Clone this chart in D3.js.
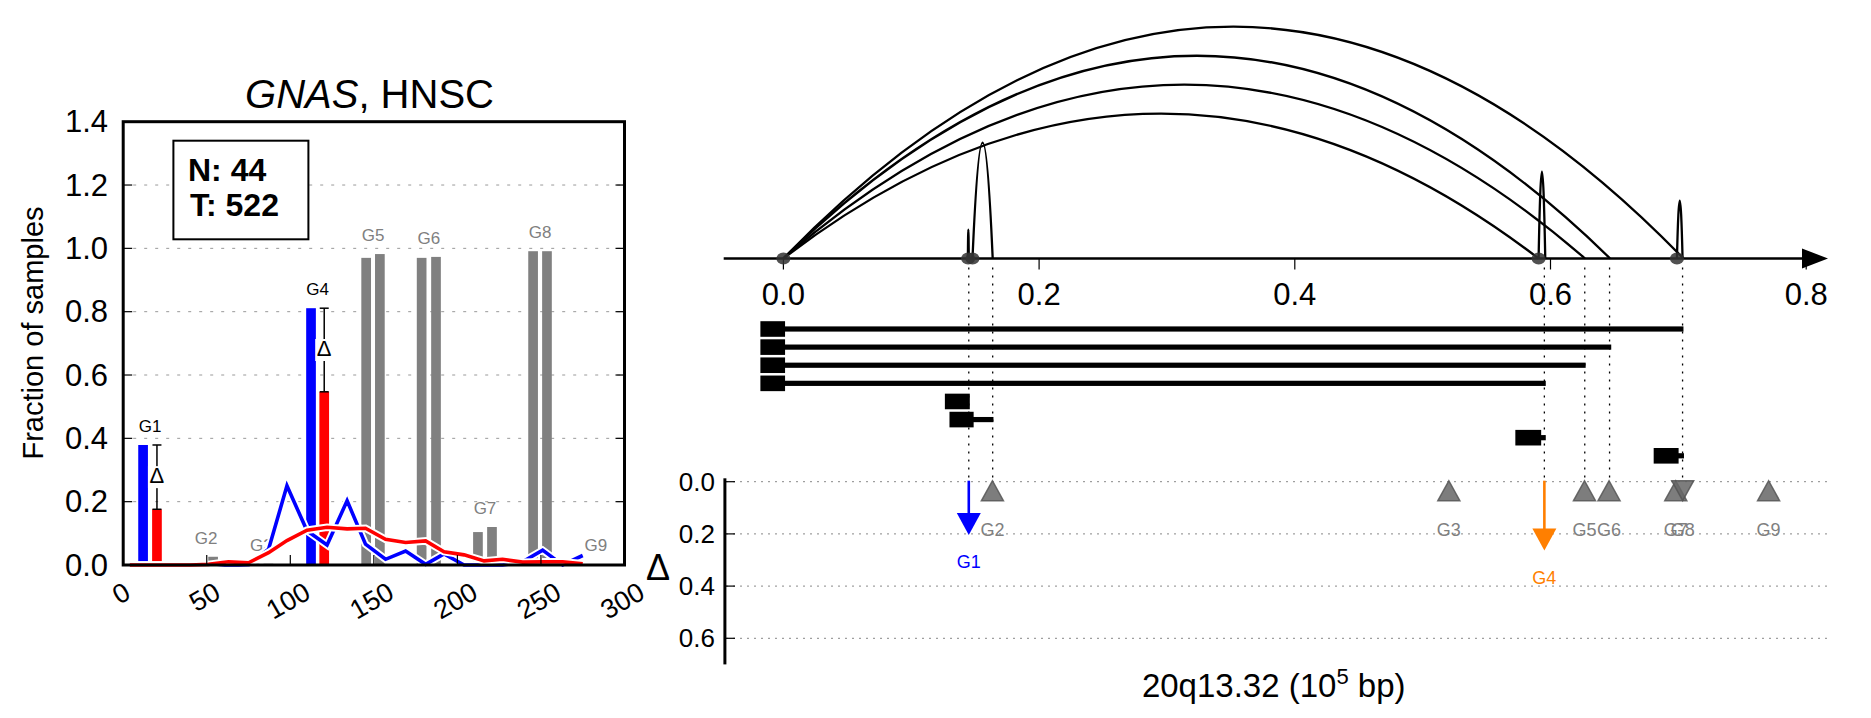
<!DOCTYPE html>
<html><head><meta charset="utf-8">
<script src="https://cdn.jsdelivr.net/npm/d3@7"></script>
<style>body{margin:0;background:#fff}</style>
</head><body><svg id="c" width="1871" height="718"></svg>
<script>
// ---------------- data : left panel ----------------
const groups      = ["G1","G2","G3","G4","G5","G6","G7","G8","G9"];
const barPosA     = [11.9, 45.5, 78.5, 112.4, 145.4, 178.6, 212.3, 245.3, 278.6];
const barPosB     = [20.2, 53.8, 86.9, 120.3, 153.6, 187.2, 220.7, 253.6, 287.0];
const fracA       = [0.379, 0.005, 0.004, 0.811, 0.970, 0.970, 0.104, 0.991, 0.003];
const fracB       = [0.176, 0.026, 0.004, 0.547, 0.982, 0.973, 0.120, 0.991, 0.003];
const highlighted = ["G1","G4"];
const binX        = [4,16,28,40,51,63,75,87,98,110,122,134,145,157,169,181,192,204,216,227,239,251,263,275];
const blueLine    = [0,0,0,0,0,0,0,0.05,0.25,0.108,0.063,0.203,0.066,0.018,0.044,0.002,0.035,0,0,0,0.01,0.047,0,0.03];
const redLine     = [0,0,0,0,0.002,0.01,0.007,0.039,0.077,0.11,0.119,0.114,0.116,0.081,0.071,0.076,0.042,0.032,0.013,0.018,0.009,0.01,0.01,0.004];
const yTicksL     = [0,0.2,0.4,0.6,0.8,1.0,1.2,1.4];
const xTicksL     = [0,50,100,150,200,250,300];
const countN = 44, countT = 522;

// ---------------- data : right panel ----------------
const axisTicksR   = [0,0.2,0.4,0.6,0.8];
const arcStart     = [0,0,0,0,0.1479,0.5907,0.6989,0.1443];
const arcEnd       = [0.704,0.6466,0.627,0.5907,0.1637,0.5959,0.7033,0.1450];
const arcLevel     = [8,7,6,5,4,3,2,1];
const breakpoints  = [0,0.1445,0.1479,0.5907,0.6989];
const guideX       = [0.1450,0.1637,0.5952,0.6268,0.6462,0.7033];
const segThickFrom = [-0.018,-0.018,-0.018,-0.018,0.1263,0.1299,0.5725,0.6807];
const segThickTo   = [0.0013,0.0013,0.0013,0.0013,0.1458,0.1488,0.5927,0.7002];
const segLineTo    = [0.704,0.6475,0.6275,0.5963,0.1458,0.1643,0.5963,0.7044];
const deltaTicks   = [0,0.2,0.4,0.6];
const triGroups    = ["G2","G3","G5","G6","G7","G8","G9"];
const triPos       = [0.1635,0.5205,0.6266,0.6458,0.698,0.7034,0.7706];
const triUp        = [true,true,true,true,true,false,true];
const arrowGroups  = ["G1","G4"];
const arrowPos     = [0.145,0.5952];
const arrowDelta   = [0.204,0.264];

// ---------------- drawing ----------------
const FONT = '"Liberation Sans", Arial, Helvetica, sans-serif';
const svg = d3.select("#c").style("font-family", FONT);
const BLUE = "#0000ff", RED = "#ff0000", GRAY = "#808080", ORANGE = "#ff7f00";

function txt(g, x, y, s, size, opt = {}) {
  const t = g.append("text").attr("x", x).attr("y", y).attr("font-size", size)
    .attr("text-anchor", opt.anchor || "start").attr("fill", opt.fill || "#000");
  if (opt.weight) t.attr("font-weight", opt.weight);
  if (opt.baseline) t.attr("dominant-baseline", opt.baseline);
  if (opt.transform) t.attr("transform", opt.transform);
  t.text(s);
  return t;
}

// ===== Left panel =====
const xL = d3.scaleLinear().domain([0,300]).range([123.2,624.5]);
const yL = d3.scaleLinear().domain([0,1.4]).range([565,121.7]);
const L = svg.append("g");

// grid
L.selectAll(".grid").data(yTicksL.filter(t => t > 0 && t < 1.4)).join("line")
  .attr("x1", xL(0) + 10).attr("x2", xL(300) - 2)
  .attr("y1", d => yL(d)).attr("y2", d => yL(d))
  .attr("stroke", "#999").attr("stroke-width", 1).attr("stroke-dasharray", "3,8");

// bars
const bw = xL(5.8) - xL(0);
const barData = [];
groups.forEach((g, i) => {
  const hl = highlighted.includes(g);
  barData.push({g, x: barPosA[i], v: fracA[i], c: hl ? BLUE : GRAY});
  barData.push({g, x: barPosB[i], v: fracB[i], c: hl ? RED : GRAY});
});
L.selectAll(".bar").data(barData).join("rect")
  .attr("x", d => xL(d.x) - bw/2).attr("width", bw)
  .attr("y", d => yL(d.v)).attr("height", d => yL(0) - yL(d.v))
  .attr("fill", d => d.c);

// group labels
L.selectAll(".glab").data(groups).join("text")
  .attr("x", (d,i) => xL((barPosA[i] + barPosB[i]) / 2))
  .attr("y", (d,i) => yL(Math.max(fracA[i], fracB[i])) - 13)
  .attr("text-anchor", "middle").attr("font-size", 17)
  .attr("fill", d => highlighted.includes(d) ? "#000" : GRAY)
  .text(d => d);

// lines with white halo
const line = d3.line().x(d => xL(d[0])).y(d => yL(d[1]));
[[blueLine, BLUE], [redLine, RED]].forEach(([vals, col]) => {
  const pts = binX.map((x, i) => [x, vals[i]]);
  L.append("path").attr("d", line(pts)).attr("fill", "none")
    .attr("stroke", "#fff").attr("stroke-width", 7.5).attr("stroke-linejoin", "miter");
  L.append("path").attr("d", line(pts)).attr("fill", "none")
    .attr("stroke", col).attr("stroke-width", 3.6).attr("stroke-linejoin", "miter");
});

// error bars with delta
groups.forEach((g, i) => {
  if (!highlighted.includes(g)) return;
  const x = xL(barPosB[i]), y1 = yL(fracA[i]), y2 = yL(fracB[i]), ym = (y1 + y2) / 2;
  L.append("line").attr("x1", x).attr("x2", x).attr("y1", y1).attr("y2", y2)
    .attr("stroke", "#000").attr("stroke-width", 1.5);
  [y1, y2].forEach(y => L.append("line").attr("x1", x - 4.5).attr("x2", x + 4.5)
    .attr("y1", y).attr("y2", y).attr("stroke", "#000").attr("stroke-width", 1.5));
  L.append("rect").attr("x", x - 9).attr("y", ym - 11).attr("width", 18).attr("height", 22).attr("fill", "#fff");
  txt(L, x, ym + 6, "Δ", 22, {anchor: "middle"});
});

// frame
L.append("rect").attr("x", xL(0)).attr("y", yL(1.4)).attr("width", xL(300) - xL(0))
  .attr("height", yL(0) - yL(1.4)).attr("fill", "none").attr("stroke", "#000").attr("stroke-width", 3);
// ticks
yTicksL.filter(t => t > 0 && t < 1.4).forEach(t => {
  L.append("line").attr("x1", xL(0)).attr("x2", xL(0) + 9).attr("y1", yL(t)).attr("y2", yL(t)).attr("stroke", "#000").attr("stroke-width", 1.2);
  L.append("line").attr("x1", xL(300) - 9).attr("x2", xL(300)).attr("y1", yL(t)).attr("y2", yL(t)).attr("stroke", "#000").attr("stroke-width", 1.2);
});
xTicksL.filter(t => t > 0 && t < 300).forEach(t => {
  L.append("line").attr("x1", xL(t)).attr("x2", xL(t)).attr("y1", yL(0)).attr("y2", yL(0) - 10).attr("stroke", "#000").attr("stroke-width", 1.2);
});
// y tick labels
yTicksL.forEach(t => txt(L, 108, yL(t), t.toFixed(1), 31, {anchor: "end", baseline: "central"}));
// x tick labels rotated
xTicksL.forEach(t => {
  const fs = 27;
  const tx = L.append("text").attr("font-size", fs).attr("text-anchor", "middle")
    .attr("dominant-baseline", "central").text(t);
  const w = tx.node().getComputedTextLength();
  const h = w * 0.5 + fs * 0.866;
  const cx = xL(t) - 2, cy = yL(0) + 13 + h / 2;
  tx.attr("x", cx).attr("y", cy).attr("transform", `rotate(-30,${cx},${cy})`);
});
// y label
txt(L, 0, 0, "Fraction of samples", 29, {anchor: "middle", transform: `translate(43,333) rotate(-90)`});
// title
const title = L.append("text").attr("x", 369.5).attr("y", 108).attr("font-size", 40).attr("text-anchor", "middle");
title.append("tspan").attr("font-style", "italic").text("GNAS");
title.append("tspan").text(", HNSC");
// inset
L.append("rect").attr("x", 173.4).attr("y", 140.7).attr("width", 135).attr("height", 98.6)
  .attr("fill", "#fff").attr("stroke", "#000").attr("stroke-width", 2);
txt(L, 188, 181, `N: ${countN}`, 32, {weight: "bold"});
txt(L, 190, 216, `T: ${countT}`, 32, {weight: "bold"});

// ===== Right panel =====
const xR = d3.scaleLinear().domain([0,0.8]).range([783.4,1806.2]);
const axisY = 258.5;
const yLev = d3.scaleLinear().domain([0,8]).range([axisY, axisY - 231.8]);
const R = svg.append("g");

// guides (dotted)
R.selectAll(".guide").data(guideX).join("line")
  .attr("x1", d => xR(d)).attr("x2", d => xR(d)).attr("y1", axisY + 9).attr("y2", 481)
  .attr("stroke", "#000").attr("stroke-width", 1.3).attr("stroke-dasharray", "2,6");

// arcs
R.selectAll(".arc").data(arcLevel).join("path")
  .attr("d", (lv, i) => {
    const x1 = xR(arcStart[i]), x2 = xR(arcEnd[i]), top = yLev(lv);
    return `M${x1},${axisY} Q${(x1 + x2) / 2},${2 * top - axisY} ${x2},${axisY}`;
  })
  .attr("fill", "none").attr("stroke", "#000").attr("stroke-width", 2.3);

// axis with arrow
R.append("line").attr("x1", 723.7).attr("x2", 1806).attr("y1", axisY).attr("y2", axisY).attr("stroke", "#000").attr("stroke-width", 2.4);
R.append("path").attr("d", `M1802,${axisY - 10} L1828,${axisY} L1802,${axisY + 10} Z`).attr("fill", "#000");
axisTicksR.forEach(t => {
  R.append("line").attr("x1", xR(t)).attr("x2", xR(t)).attr("y1", axisY).attr("y2", axisY + 11).attr("stroke", "#000").attr("stroke-width", 1.2);
  txt(R, xR(t), 305, t.toFixed(1), 31, {anchor: "middle"});
});
// breakpoint markers
R.selectAll(".bp").data(breakpoints).join("ellipse")
  .attr("cx", d => xR(d)).attr("cy", axisY).attr("rx", 7).attr("ry", 6)
  .attr("fill", "#333").attr("fill-opacity", 0.85);

// segments
const rowY = d3.scalePoint().domain(d3.range(segThickFrom.length)).range([329, 455.8]);
segThickFrom.forEach((s, i) => {
  const y = rowY(i);
  if (segLineTo[i] > segThickTo[i])
    R.append("rect").attr("x", xR(segThickTo[i]) - 1).attr("y", y - 2.6).attr("width", xR(segLineTo[i]) - xR(segThickTo[i]) + 1).attr("height", 5.2).attr("fill", "#000");
  R.append("rect").attr("x", xR(s)).attr("y", y - 7.8).attr("width", xR(segThickTo[i]) - xR(s)).attr("height", 15.6).attr("fill", "#000");
});

// delta axis
const yD = d3.scaleLinear().domain([0,0.7]).range([481.7,664.4]);
const D = svg.append("g");
deltaTicks.forEach(t => {
  D.append("line").attr("x1", 726).attr("x2", 1828).attr("y1", yD(t)).attr("y2", yD(t))
    .attr("stroke", "#888").attr("stroke-width", 1).attr("stroke-dasharray", "2,5");
  D.append("line").attr("x1", 724.9).attr("x2", 735).attr("y1", yD(t)).attr("y2", yD(t)).attr("stroke", "#000").attr("stroke-width", 1.2);
  txt(D, 715, yD(t), t.toFixed(1), 26, {anchor: "end", baseline: "central"});
});
D.append("line").attr("x1", 724.9).attr("x2", 724.9).attr("y1", yD(-0.013)).attr("y2", yD(0.7)).attr("stroke", "#000").attr("stroke-width", 3);

// triangles
triGroups.forEach((g, i) => {
  const x = xR(triPos[i]), yc = yD(0) + 9;
  const d = triUp[i]
    ? `M${x - 11},${yc + 10} L${x},${yc - 10} L${x + 11},${yc + 10} Z`
    : `M${x - 11},${yc - 10} L${x},${yc + 10} L${x + 11},${yc - 10} Z`;
  D.append("path").attr("d", d).attr("fill", "#666").attr("fill-opacity", 0.85)
    .attr("stroke", "#555").attr("stroke-width", 1.5).attr("stroke-opacity", 0.85);
  txt(D, x, yD(0.2) + 2, g, 18, {anchor: "middle", fill: GRAY});
});

// arrows
arrowGroups.forEach((g, i) => {
  const col = g === "G1" ? BLUE : ORANGE;
  const x = xR(arrowPos[i]), tip = yD(arrowDelta[i]);
  D.append("line").attr("x1", x).attr("x2", x).attr("y1", yD(0) - 1).attr("y2", tip - 20).attr("stroke", col).attr("stroke-width", 2.6);
  D.append("path").attr("d", `M${x - 12},${tip - 22} L${x + 12},${tip - 22} L${x},${tip} Z`).attr("fill", col);
  txt(D, x, tip + 33, g, 18, {anchor: "middle", fill: col});
});

// labels
txt(D, 658, 580, "Δ", 36, {anchor: "middle"});
const xl = D.append("text").attr("x", 1273.7).attr("y", 697).attr("font-size", 33).attr("text-anchor", "middle");
xl.append("tspan").text("20q13.32 (10");
xl.append("tspan").attr("dy", -13).attr("font-size", 22).text("5");
xl.append("tspan").attr("dy", 13).text(" bp)");
</script>
</body></html>
